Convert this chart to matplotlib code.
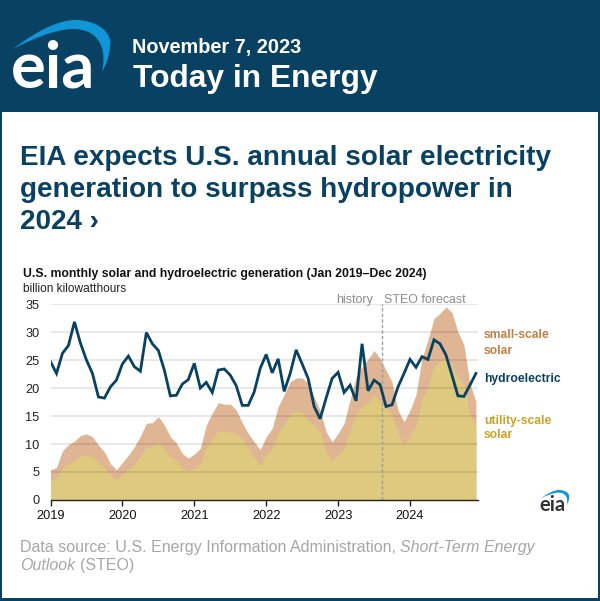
import numpy as np
import matplotlib
matplotlib.use("Agg")
import matplotlib.pyplot as plt
from matplotlib.patches import Rectangle, PathPatch
from matplotlib.path import Path

plt.rcParams['font.family'] = ['Liberation Sans', 'DejaVu Sans']

hydro = [24.7,22.6,26.2,27.6,31.8,28.0,25.0,22.6,18.4,18.2,20.2,21.4,
         24.3,25.7,23.8,23.0,29.9,27.9,26.7,23.2,18.6,18.7,20.7,21.5,
         24.4,20.0,21.0,19.2,23.2,23.4,22.3,20.4,16.9,16.9,19.3,23.5,
         26.0,22.7,25.2,19.4,22.6,26.8,24.3,21.7,16.7,14.5,18.2,21.7,
         22.8,19.2,20.5,17.7,27.9,19.5,21.4,20.6,16.7,17.0,20.2,22.6,
         25.1,23.7,25.6,25.1,28.6,27.9,25.9,22.3,18.6,18.5,20.5,22.6]
utility_solar = [3.6,3.9,5.8,6.5,7.0,7.9,8.0,7.7,6.7,5.8,4.4,3.6,
                 4.5,5.5,6.4,7.9,9.4,9.6,10.4,9.2,7.7,7.1,5.8,5.1,
                 5.7,6.4,9.2,11.0,12.4,12.2,12.1,11.9,11.0,9.2,7.6,6.1,
                 8.2,9.2,11.9,13.4,15.2,16.0,15.6,14.3,13.3,12.2,8.5,7.0,
                 8.0,9.2,12.5,15.2,16.8,17.4,18.8,17.7,16.7,15.2,11.9,9.8,
                 11.6,13.4,17.9,20.2,23.9,24.7,25.3,24.1,22.0,20.5,15.5,13.0]
total_solar = [5.4,5.8,8.8,9.9,10.5,11.5,11.8,11.3,9.8,8.6,6.5,5.4,
               6.7,8.0,9.5,11.4,13.7,13.8,14.9,13.4,11.3,10.2,8.3,7.5,
               8.2,9.2,13.4,15.5,17.4,17.1,17.1,16.1,13.8,11.9,10.4,9.0,
               11.3,12.8,16.7,18.8,21.1,21.8,21.8,20.8,18.4,16.0,12.2,10.4,
               11.9,13.7,17.9,22.0,23.8,25.1,26.7,25.3,23.2,21.1,16.0,14.0,
               16.0,18.8,25.3,28.6,32.4,33.3,34.5,33.5,30.0,27.7,20.8,17.6]
months = np.arange(len(hydro)) / 12 + 2019
years = [2019, 2020, 2021, 2022, 2023, 2024]
y_ticks = [0, 5, 10, 15, 20, 25, 30, 35]
forecast_start = 2019 + 55.35 / 12

NAVY = '#084161'
W, H = 600, 601
fig = plt.figure(figsize=(6.0, 6.01), dpi=100, facecolor=NAVY)

bg = fig.add_axes([0, 0, 1, 1])
bg.set_xlim(0, W); bg.set_ylim(H, 0); bg.axis('off')
bg.add_patch(Rectangle((2, 112), 596, 486, fc='white', ec='none'))

def swoosh(ax, x0, y0, s):
    v = [(13, 49), (35, 32), (58, 20), (75, 20), (98, 20), (113, 33), (110, 47),
         (109, 58), (105, 67), (102, 72), (106, 56), (104, 29), (73, 29), (55, 29), (30, 40), (13, 49)]
    c = [Path.MOVETO] + [Path.CURVE4] * 15
    pts = [((x - 13) * s + x0, (y - 20) * s + y0) for x, y in v]
    ax.add_patch(PathPatch(Path(pts, c), fc='#0E96D8', ec='none', zorder=3))

swoosh(bg, 13, 20, 1.0)
bg.text(11, 88, 'eia', color='white', fontsize=47, family='Lato', fontweight='bold', va='baseline', ha='left')
bg.text(132, 53, 'November 7, 2023', color='white', fontsize=14.3, fontweight='bold', va='baseline')
bg.text(133, 87, 'Today in Energy', color='white', fontsize=22.9, fontweight='bold', va='baseline')
for y, s in [(165, 'EIA expects U.S. annual solar electricity'),
             (197, 'generation to surpass hydropower in'),
             (229, '2024 ›')]:
    bg.text(20, y, s, color=NAVY, fontsize=20.07, fontweight='bold', va='baseline')
bg.text(23, 277, 'U.S. monthly solar and hydroelectric generation (Jan 2019–Dec 2024)',
        color='#111111', fontsize=8.8, fontweight='bold', va='baseline')
bg.text(23, 292, 'billion kilowatthours', color='#222222', fontsize=8.6, va='baseline')
GREY = '#A6A6A6'
bg.text(20, 552, 'Data source: U.S. Energy Information Administration,', color=GREY, fontsize=11.5, va='baseline')
bg.text(400, 552, 'Short-Term Energy', color=GREY, fontsize=11.5, style='italic', va='baseline')
bg.text(20, 570, 'Outlook', color=GREY, fontsize=11.5, style='italic', va='baseline')
bg.text(80, 570, '(STEO)', color=GREY, fontsize=11.5, va='baseline')

bg.text(484, 338, 'small-scale', color='#C07F45', fontsize=8.7, fontweight='bold', va='baseline')
bg.text(484, 354, 'solar', color='#C07F45', fontsize=8.7, fontweight='bold', va='baseline')
bg.text(484, 382, 'hydroelectric', color=NAVY, fontsize=8.7, fontweight='bold', va='baseline')
bg.text(484, 424, 'utility-scale', color='#C9A227', fontsize=8.7, fontweight='bold', va='baseline')
bg.text(484, 438, 'solar', color='#C9A227', fontsize=8.7, fontweight='bold', va='baseline')

swoosh(bg, 541, 490, 0.29)
bg.text(539.5, 511, 'eia', color='#333333', fontsize=14.5, family='Lato', fontweight='bold', va='baseline')

ax = fig.add_axes([50.5 / W, 1 - 500 / H, (478 - 50.5) / W, 196 / H])
ax.patch.set_alpha(0)
ax.set_xlim(2019, 2019 + (478 - 50.5) / 71.9)
ax.set_ylim(0, 35)
ax.fill_between(months, 0, total_solar, color='#DFB594', lw=0, zorder=1)
ax.fill_between(months, 0, utility_solar, color='#DFC97F', lw=0, zorder=1.1)
for v in y_ticks[1:]:
    ax.axhline(v, color='black', alpha=0.11, lw=1.2, zorder=2)
ax.axvline(forecast_start, color='#A0A0A0', lw=1, ls=(0, (2.5, 1.5)), zorder=2.5, clip_on=False)
ax.plot(months, hydro, color=NAVY, lw=2.0, zorder=3, solid_joinstyle='miter')
for s in ['top', 'right', 'left']:
    ax.spines[s].set_visible(False)
ax.spines['bottom'].set_linewidth(1.0)
ax.spines['bottom'].set_color('#222222')
ax.set_xticks(years)
ax.set_xticklabels([str(y) for y in years])
ax.set_yticks(y_ticks)
ax.tick_params(axis='y', length=0, pad=8, labelsize=9.2, labelcolor='#222222')
ax.tick_params(axis='x', length=4, width=1, pad=3, labelsize=9.2, labelcolor='#111111', color='#222222')
bg.text(373, 303, 'history', color='#8C8C8C', fontsize=8.9, ha='right', va='baseline')
bg.text(384, 303, 'STEO forecast', color='#8C8C8C', fontsize=8.9, ha='left', va='baseline')

fig.savefig('out.png', dpi=100, facecolor=NAVY)
